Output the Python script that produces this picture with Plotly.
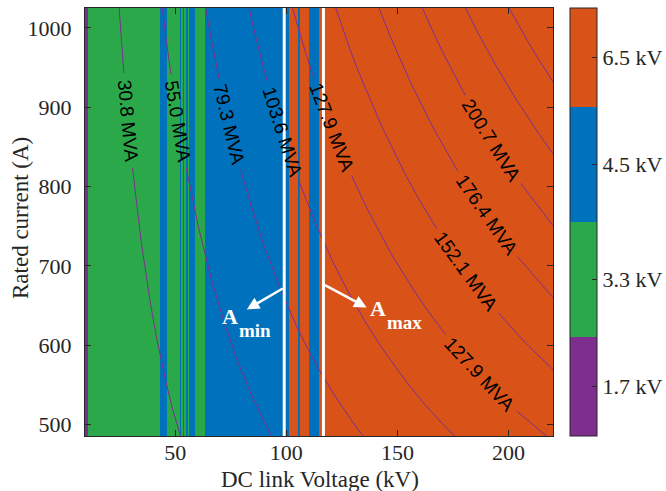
import math
import numpy as np
import plotly.graph_objects as go

# ---------------- data ----------------
# semiconductor cell voltage classes and their colours
cell_classes = ["1.7 kV", "3.3 kV", "4.5 kV", "6.5 kV"]
class_colors = ["#7E2F8E", "#2BA84A", "#0072BD", "#D95319"]

# DC link voltage breakpoints (kV) and the cell class chosen between them
voltage_edges = [9.4, 10.6, 43.3, 46.3, 52.0, 52.7, 53.4, 53.8, 54.9, 55.6,
                 56.4, 59.0, 63.2, 101.2, 105.4, 106.2, 110.3, 114.7, 220.0]
selected_class = [0, 1, 2, 1, 2, 1, 2, 1, 2, 1, 2, 1, 2, 3, 2, 3, 2, 3]

# rated current span (A)
current_span = [485.3, 1025.2]

# converter power contour levels (MVA)
power_levels = [30.8, 55.0, 79.3, 103.6, 127.9, 152.1, 176.4, 200.7, 224.9, 249.2]
# contour labels: level and the DC voltage (kV) at which the label sits
label_levels = [30.8, 55.0, 79.3, 103.6, 127.9, 200.7, 176.4, 152.1, 127.9]
label_voltages = [28.7, 51.3, 74.3, 98.1, 120.4, 192.4, 190.0, 180.8, 187.0]

power_factor = 1.215  # MVA per (kV * kA)

# optimum-area boundaries (kV)
a_min_voltage = 99.05
a_max_voltage = 116.7

x_ticks = [50, 100, 150, 200]
y_ticks = [500, 600, 700, 800, 900, 1000]

# ---------------- geometry / style ----------------
W, H = 666, 491
ML, MR, MT, MB = 85, 113, 8, 55
PW, PH = W - ML - MR, H - MT - MB
x_range = [voltage_edges[0], voltage_edges[-1]]
y_range = current_span
sx = PW / (x_range[1] - x_range[0])
sy = PH / (y_range[1] - y_range[0])

AXIS_COLOR = "#262626"
SERIF = "Liberation Serif"
SANS = "Liberation Sans"
LINE_COLOR = "#7E2F8E"
LABEL_SIZE = 19

# colourbar segment bounds (fraction of bar height, bottom to top)
cb_bounds = [0.0, 0.2315, 0.5003, 0.7692, 1.0]
cb_centers = [(cb_bounds[i] + cb_bounds[i + 1]) / 2 for i in range(4)]
colorscale = []
for i, c in enumerate(class_colors):
    colorscale.append([cb_bounds[i], c])
    colorscale.append([cb_bounds[i + 1], c])

fig = go.Figure()

# selected cell class along the DC link voltage axis
fig.add_trace(go.Heatmap(
    x=voltage_edges,
    y=current_span,
    z=[[cb_centers[c] for c in selected_class]],
    zmin=0, zmax=1,
    colorscale=colorscale,
    zsmooth=False,
    hoverinfo="skip",
    colorbar=dict(
        x=(570 - ML) / PW, xanchor="left", xpad=0,
        y=0.5, yanchor="middle", ypad=0,
        len=1, lenmode="fraction",
        thickness=27, thicknessmode="pixels",
        outlinewidth=1, outlinecolor=AXIS_COLOR,
        tickmode="array", tickvals=cb_centers, ticktext=cell_classes,
        ticks="inside", ticklen=5, tickcolor=AXIS_COLOR,
        tickfont=dict(family=SERIF, size=22, color=AXIS_COLOR),
    ),
))

# character widths (em) for label gap estimation
char_w = {".": 0.278, " ": 0.278, "M": 0.833, "V": 0.667, "A": 0.667}


def text_width(s, size):
    return sum(char_w.get(ch, 0.556) for ch in s) * size


labels = []
for lvl, vc in zip(label_levels, label_voltages):
    ic = 1000.0 * lvl / (power_factor * vc)
    txt = f"{lvl:.1f} MVA"
    labels.append((lvl, vc, ic, txt, text_width(txt, LABEL_SIZE) / 2 + 5))

# constant-power contour lines, broken where a label sits
v = np.linspace(x_range[0], x_range[1], 4000)
for lvl in power_levels:
    i = 1000.0 * lvl / (power_factor * v)
    i = np.where((i >= y_range[0] - 20) & (i <= y_range[1] + 20), i, np.nan)
    for (l2, vc, ic, txt, half) in labels:
        if abs(l2 - lvl) < 1e-6:
            d = np.hypot((v - vc) * sx, (i - ic) * sy)
            i = np.where(d < half, np.nan, i)
    fig.add_trace(go.Scatter(
        x=v, y=i, mode="lines",
        line=dict(color=LINE_COLOR, width=1),
        connectgaps=False, hoverinfo="skip", showlegend=False,
    ))

annotations = []
for (lvl, vc, ic, txt, half) in labels:
    ang = math.degrees(math.atan((ic / vc) * sy / sx))
    annotations.append(dict(
        x=vc, y=ic, text=txt, showarrow=False, textangle=ang,
        font=dict(family=SANS, size=LABEL_SIZE, color="black"),
        xanchor="center", yanchor="middle",
    ))

# optimum-area boundaries
for av in (a_min_voltage, a_max_voltage):
    fig.add_trace(go.Scatter(
        x=[av, av], y=current_span, mode="lines",
        line=dict(color="white", width=3),
        hoverinfo="skip", showlegend=False,
    ))

# arrows pointing to the labels
annotations.append(dict(x=82.2, y=645, ax=a_min_voltage, ay=672.5,
                        axref="x", ayref="y", text="", showarrow=True,
                        arrowhead=2, arrowsize=1, arrowwidth=2.5,
                        arrowcolor="white"))
annotations.append(dict(x=136.1, y=647.4, ax=a_max_voltage, ay=676.7,
                        axref="x", ayref="y", text="", showarrow=True,
                        arrowhead=2, arrowsize=1, arrowwidth=2.5,
                        arrowcolor="white"))

for xa, ya, t, sz in [(70.2, 636.4, "A", 22), (77.9, 618.8, "min", 19),
                      (136.8, 646.5, "A", 22), (144.3, 628.8, "max", 19)]:
    annotations.append(dict(
        x=xa, y=ya, text=f"<b>{t}</b>", showarrow=False,
        xanchor="left", yanchor="middle",
        font=dict(family=SERIF, size=sz, color="white"),
    ))

# axis titles
annotations.append(dict(
    text="DC link Voltage (kV)", xref="paper", yref="paper",
    x=(320 - ML) / PW, y=-(494 - (MT + PH)) / PH,
    xanchor="center", yanchor="bottom", showarrow=False,
    font=dict(family=SERIF, size=23, color=AXIS_COLOR),
))
annotations.append(dict(
    text="Rated current (A)", xref="paper", yref="paper",
    x=(20 - ML) / PW, y=(MT + PH - 218) / PH, textangle=-90,
    xanchor="center", yanchor="middle", showarrow=False,
    font=dict(family=SERIF, size=23, color=AXIS_COLOR),
))

axis_common = dict(
    showgrid=False, zeroline=False, showline=True, linecolor=AXIS_COLOR,
    linewidth=1, mirror="ticks", ticks="inside", ticklen=6,
    tickcolor=AXIS_COLOR, tickfont=dict(family=SERIF, size=22, color=AXIS_COLOR),
    layer="above traces", automargin=False,
)

fig.update_layout(
    width=W, height=H,
    margin=dict(l=ML, r=MR, t=MT, b=MB, pad=0, autoexpand=False),
    paper_bgcolor="white", plot_bgcolor="white",
    showlegend=False,
    xaxis=dict(range=x_range, tickvals=x_ticks, ticklabelstandoff=-3,
               **axis_common),
    yaxis=dict(range=y_range, tickvals=y_ticks, ticklabelstandoff=8,
               **axis_common),
    annotations=annotations,
)

fig.write_html("out.html")
